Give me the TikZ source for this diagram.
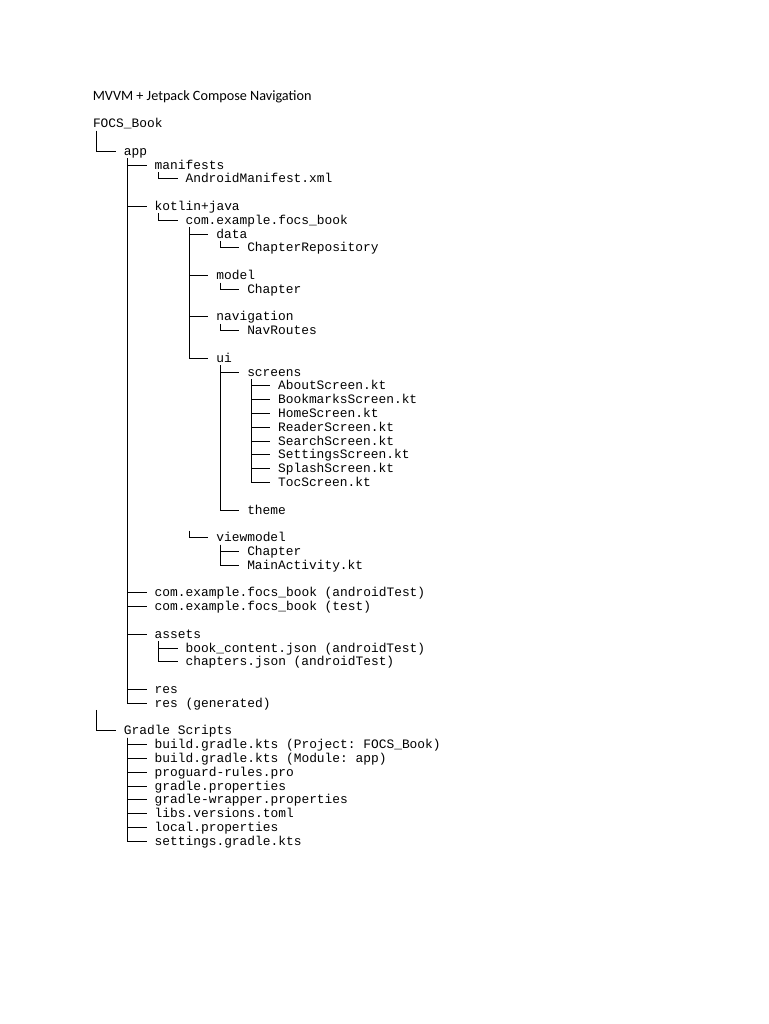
\documentclass[tikz,border=0pt]{standalone}
\usepackage{fontspec}
\setmonofont{Liberation Mono}
\newfontfamily\titlefont{Carlito}
\newcommand{\colx}[1]{92.8+30.85*#1}
\newcommand{\rowy}[1]{127.7+13.8*#1}
\tikzset{
  lbl/.style={anchor=base west, inner sep=0pt, text height=11pt, text depth=2.8pt,
    font=\ttfamily\fontsize{12.88}{13.8}\selectfont, text=black},
  conn/.style={draw=black, line width=0.75pt},
}
\begin{document}
\begin{tikzpicture}[x=1pt,y=-1pt]
\fill[white] (0,0) rectangle (768,1024);
\useasboundingbox (0,0) rectangle (768,1024);
\node[anchor=base west, inner sep=0pt, font=\titlefont\fontsize{14.2}{16}\selectfont] (title) at (92.6,100.3) {MVVM + Jetpack Compose Navigation};
\foreach \lv/\rw/\nm/\tx in {
  0/0/focs/FOCS\_Book,
  1/2/app/app,
  2/3/manif/manifests,
  3/4/amx/AndroidManifest.xml,
  2/6/kj/kotlin+java,
  3/7/pkg/com.example.focs\_book,
  4/8/data/data,
  5/9/repo/ChapterRepository,
  4/11/model/model,
  5/12/mchap/Chapter,
  4/14/nav/navigation,
  5/15/routes/NavRoutes,
  4/17/ui/ui,
  5/18/screens/screens,
  6/19/s1/AboutScreen.kt,
  6/20/s2/BookmarksScreen.kt,
  6/21/s3/HomeScreen.kt,
  6/22/s4/ReaderScreen.kt,
  6/23/s5/SearchScreen.kt,
  6/24/s6/SettingsScreen.kt,
  6/25/s7/SplashScreen.kt,
  6/26/s8/TocScreen.kt,
  5/28/theme/theme,
  4/30/vm/viewmodel,
  5/31/vchap/Chapter,
  5/32/mainact/MainActivity.kt,
  2/34/at/com.example.focs\_book (androidTest),
  2/35/tst/com.example.focs\_book (test),
  2/37/assets/assets,
  3/38/bcj/book\_content.json (androidTest),
  3/39/chj/chapters.json (androidTest),
  2/41/res/res,
  2/42/resg/res (generated),
  1/44/gradle/Gradle Scripts,
  2/45/g1/build.gradle.kts (Project: FOCS\_Book),
  2/46/g2/build.gradle.kts (Module: app),
  2/47/g3/proguard-rules.pro,
  2/48/g4/gradle.properties,
  2/49/g5/gradle-wrapper.properties,
  2/50/g6/libs.versions.toml,
  2/51/g7/local.properties,
  2/52/g8/settings.gradle.kts}
  \node[lbl] (\nm) at ({\colx{\lv}},{\rowy{\rw}}) {\tx};
\foreach \p/\c in {focs/app, app/manif, manif/amx, app/kj, kj/pkg, pkg/data, data/repo,
  pkg/model, model/mchap, pkg/nav, nav/routes, pkg/ui, ui/screens,
  screens/s1, screens/s2, screens/s3, screens/s4, screens/s5, screens/s6, screens/s7, screens/s8,
  ui/theme, vm/vchap, vm/mainact, app/at, app/tst, app/assets, assets/bcj, assets/chj,
  app/res, app/resg, gradle/g1, gradle/g2, gradle/g3, gradle/g4, gradle/g5, gradle/g6, gradle/g7, gradle/g8}
  \draw[conn] ([xshift=3.86pt]\p.south west) |- ([xshift=-7.71pt]\c.west);
\coordinate (vmtop) at ([xshift=-26.99pt]vm.north west);
\draw[conn] (vmtop) |- ([xshift=-7.71pt]vm.west);
\coordinate (gtop) at ([xshift=-26.99pt,yshift=13.8pt]gradle.north west);
\draw[conn] (gtop) |- ([xshift=-7.71pt]gradle.west);
\end{tikzpicture}
\end{document}
